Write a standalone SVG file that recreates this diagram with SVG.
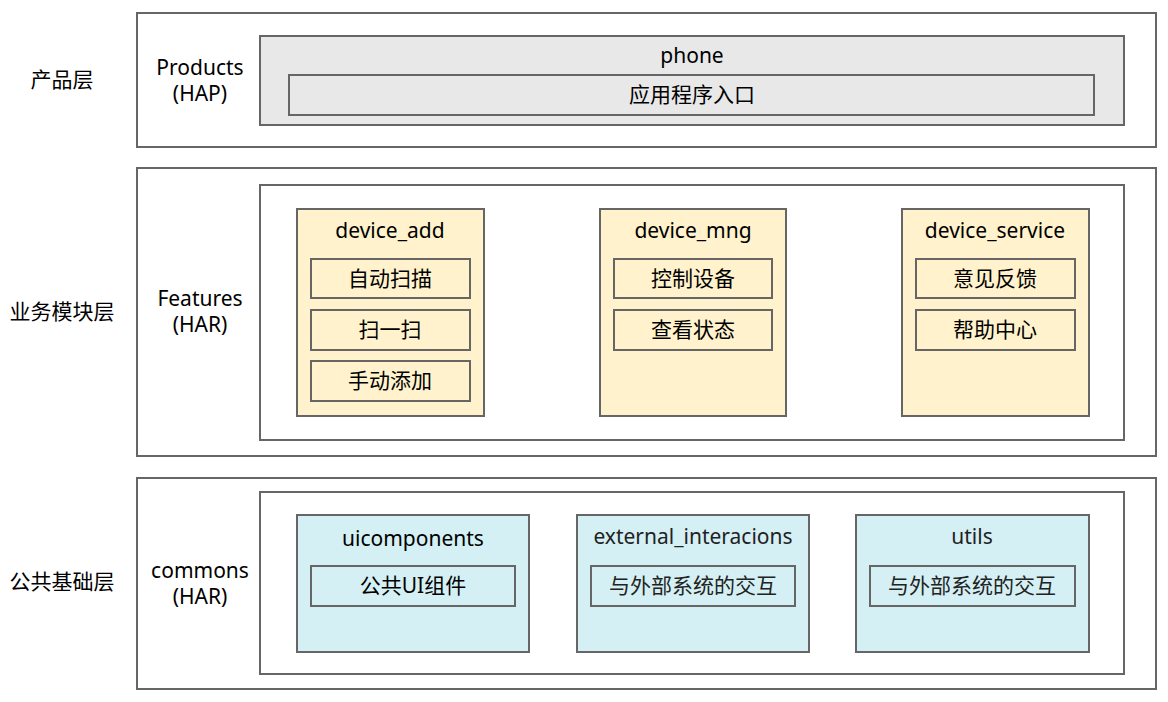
<svg xmlns="http://www.w3.org/2000/svg" width="1168" height="702" viewBox="0 0 1168 702">
<style>
.box{stroke:#666;stroke-width:2;}
.w{fill:#fff;}
.g{fill:#e8e8e8;}
.y{fill:#fff2cc;}
.c{fill:#d4f0f4;}
text{font-family:"Noto Sans","Noto Sans CJK SC",sans-serif;font-size:21px;fill:#000;text-anchor:middle;}
.t{fill:#222;}
</style>
<rect width="1168" height="702" fill="#fff"/>
<g id="layer-products">
<rect class="box w" x="137" y="13" width="1019" height="134"/>
<text x="62" y="87">产品层</text>
<text x="200" y="75">Products</text>
<text x="200" y="101">(HAP)</text>
</g>
<g id="phone">
<rect class="box g" x="260" y="36" width="864" height="89"/>
<text x="692" y="63">phone</text>
<rect class="box g" x="289" y="75" width="805" height="40"/>
<text x="692" y="102">应用程序入口</text>
</g>
<g id="layer-features">
<rect class="box w" x="137" y="168" width="1019" height="288"/>
<text x="62" y="319">业务模块层</text>
<text x="200" y="306">Features</text>
<text x="200" y="332">(HAR)</text>
<rect class="box w" x="260" y="185" width="864" height="255"/>
</g>
<g id="device_add">
<rect class="box y" x="297" y="209" width="187" height="207"/>
<text x="390" y="238">device_add</text>
<rect class="box y" x="311" y="259" width="159" height="39"/>
<text x="390" y="286">自动扫描</text>
<rect class="box y" x="311" y="310" width="159" height="40"/>
<text x="390" y="337">扫一扫</text>
<rect class="box y" x="311" y="361" width="159" height="40"/>
<text x="390" y="388">手动添加</text>
</g>
<g id="device_mng">
<rect class="box y" x="600" y="209" width="186" height="207"/>
<text x="693" y="238">device_mng</text>
<rect class="box y" x="614" y="259" width="158" height="39"/>
<text x="693" y="286">控制设备</text>
<rect class="box y" x="614" y="310" width="158" height="40"/>
<text x="693" y="337">查看状态</text>
</g>
<g id="device_service">
<rect class="box y" x="902" y="209" width="187" height="207"/>
<text x="995" y="238">device_service</text>
<rect class="box y" x="916" y="259" width="159" height="39"/>
<text x="995" y="286">意见反馈</text>
<rect class="box y" x="916" y="310" width="159" height="40"/>
<text x="995" y="337">帮助中心</text>
</g>
<g id="layer-commons">
<rect class="box w" x="137" y="478" width="1019" height="211"/>
<text x="62" y="589">公共基础层</text>
<text x="200" y="578">commons</text>
<text x="200" y="604">(HAR)</text>
<rect class="box w" x="260" y="492" width="864" height="182"/>
</g>
<g id="uicomponents">
<rect class="box c" x="297" y="515" width="232" height="137"/>
<text x="413" y="546">uicomponents</text>
<rect class="box c" x="311" y="566" width="204" height="40"/>
<text x="413" y="593">公共UI组件</text>
</g>
<g id="external_interacions">
<rect class="box c" x="577" y="515" width="232" height="137"/>
<text class="t" x="693" y="544">external_interacions</text>
<rect class="box c" x="591" y="566" width="204" height="40"/>
<text class="t" x="693" y="593">与外部系统的交互</text>
</g>
<g id="utils">
<rect class="box c" x="856" y="515" width="233" height="137"/>
<text class="t" x="972" y="544">utils</text>
<rect class="box c" x="870" y="566" width="205" height="40"/>
<text class="t" x="972" y="593">与外部系统的交互</text>
</g>
<g id="connectors"></g>
</svg>
